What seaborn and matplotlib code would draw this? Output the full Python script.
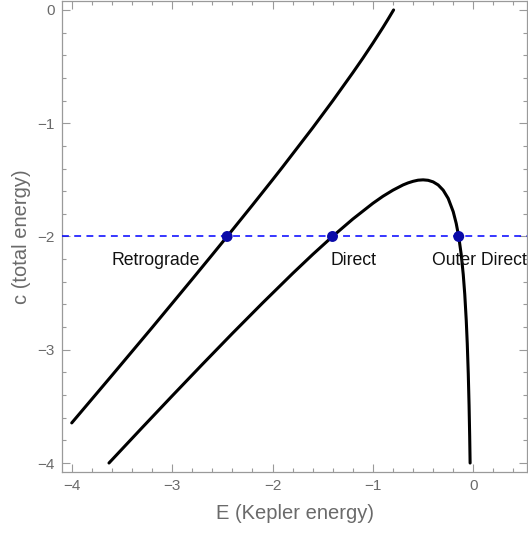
import matplotlib
matplotlib.use("Agg")
import matplotlib.pyplot as plt
from matplotlib.ticker import MultipleLocator
import seaborn as sns
import pandas as pd

# Retrograde circular-orbit branch: Kepler energy E vs total energy c
retro_E = [-4.0, -3.6, -3.2, -2.8, -2.6, -2.452, -2.2, -2.0, -1.9, -1.6, -1.4,
           -1.2, -1.1, -1.0, -0.9, -0.85, -0.794]
retro_c = [-3.646, -3.227, -2.805, -2.377, -2.161, -2.000, -1.723, -1.500, -1.387,
           -1.041, -0.802, -0.554, -0.426, -0.293, -0.155, -0.083, 0.000]

# Direct branch (inner and outer parts joined through the maximum)
direct_E = [-3.629, -3.3, -3.0, -2.7, -2.4, -2.1, -1.8, -1.6, -1.4, -1.2, -1.0,
            -0.9, -0.8, -0.7, -0.65, -0.6, -0.55, -0.5, -0.45, -0.4, -0.35, -0.3,
            -0.25, -0.2, -0.17, -0.145, -0.12, -0.1, -0.085, -0.07, -0.06, -0.05,
            -0.042, -0.036, -0.0317]
direct_c = [-4.000, -3.689, -3.408, -3.130, -2.856, -2.588, -2.327, -2.159, -1.998,
            -1.846, -1.707, -1.645, -1.591, -1.545, -1.527, -1.513, -1.503, -1.500,
            -1.504, -1.518, -1.545, -1.591, -1.664, -1.781, -1.885, -2.002, -2.161,
            -2.336, -2.510, -2.743, -2.947, -3.212, -3.492, -3.763, -4.000]

# Total energy level and the orbits found on it
level_c = -2.0
orbit_names = ["Retrograde", "Direct", "Outer Direct"]
orbit_E = [-2.452, -1.4025, -0.145]
orbit_c = [-2.0, -2.0, -2.0]

sns.set_style("ticks")
plt.rcParams["font.family"] = ["Liberation Sans", "DejaVu Sans"]

frame_col = "#9a9a9a"
text_col = "#6a6a6a"

fig = plt.figure(figsize=(5.28, 5.33), dpi=100)
ax = fig.add_axes([62 / 528, (533 - 472.3) / 533, (527 - 62) / 528, (472.3 - 1) / 533])

retro = pd.DataFrame({"E": retro_E, "c": retro_c})
direct = pd.DataFrame({"E": direct_E, "c": direct_c})
sns.lineplot(data=retro, x="E", y="c", sort=False, color="black", lw=2.2, ax=ax)
sns.lineplot(data=direct, x="E", y="c", sort=False, color="black", lw=2.2, ax=ax)

ax.axhline(level_c, color="#0000ff", lw=1.1, ls=(0, (4.5, 3.5)), zorder=3)

orbits = pd.DataFrame({"E": orbit_E, "c": orbit_c})
sns.scatterplot(data=orbits, x="E", y="c", color="#0a0aa8", s=62, edgecolor="none",
                zorder=5, ax=ax)

label_pos = [(-2.72, "right"), (-1.427, "left"), (-0.411, "left")]
for name, (x, ha) in zip(orbit_names, label_pos):
    ax.text(x, -2.253, name, ha=ha, va="baseline", fontsize=12.7, color="#111111")

ax.set_xlim(-4.097, 0.535)
ax.set_ylim(-4.082, 0.079)
ax.xaxis.set_major_locator(MultipleLocator(1))
ax.xaxis.set_minor_locator(MultipleLocator(0.2))
ax.yaxis.set_major_locator(MultipleLocator(1))
ax.yaxis.set_minor_locator(MultipleLocator(0.2))

for sp in ax.spines.values():
    sp.set_visible(True)
    sp.set_color(frame_col)
    sp.set_linewidth(0.9)

ax.tick_params(which="both", direction="in", top=True, right=True, color=frame_col,
               labelcolor=text_col, labelsize=11, width=0.8)
ax.tick_params(which="major", length=5.5, pad=5)
ax.tick_params(which="minor", length=3)

ax.set_xlabel("E (Kepler energy)", fontsize=14.5, color=text_col, labelpad=8)
ax.set_ylabel("c (total energy)", fontsize=14.5, color=text_col, labelpad=5)

fig.savefig("out.png", dpi=100)
